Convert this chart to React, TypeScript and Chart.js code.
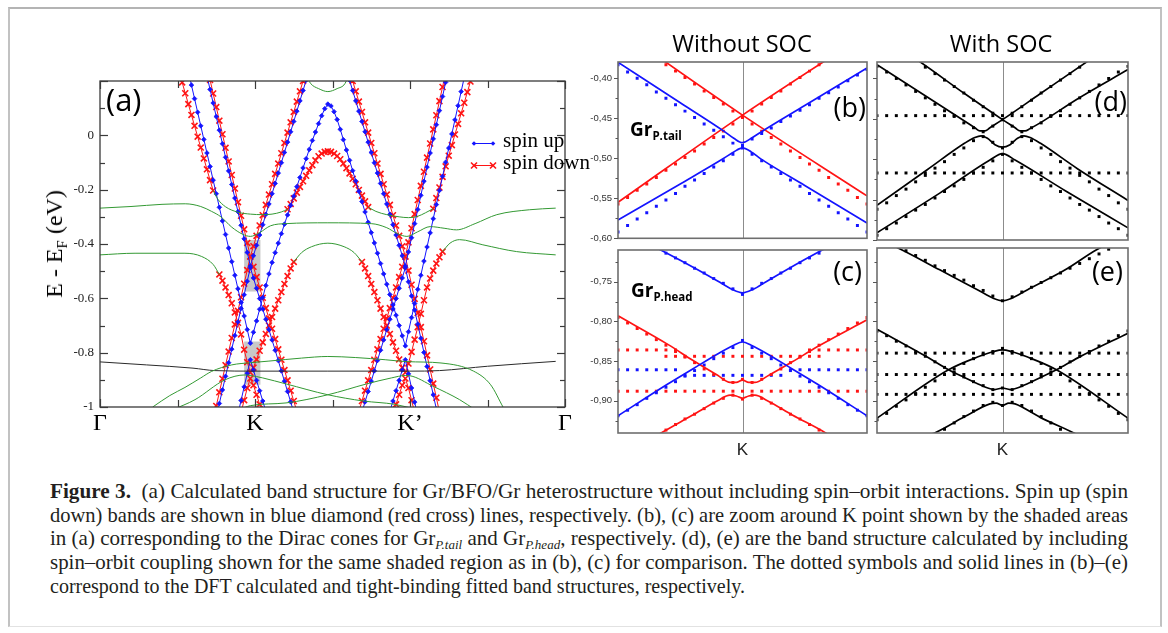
import React, { useEffect, useLayoutEffect, useRef } from 'react';
import { Chart, registerables } from 'chart.js';

Chart.register(...registerables);

const W = 1168;
const H = 633;

/* ===================== Panel (a) data ===================== */
const K_STEP = 0.02;
const A_X_RANGE = [0, 3];
const A_Y_RANGE = [-1, 0.2];
const A_X_TICK_VALUES = [0, 0.5, 1, 1.5, 2, 2.5, 3];
const A_X_LABEL_VALUES = [0, 1, 2, 3];
const A_X_LABELS = ['Γ', 'K', 'K’', 'Γ'];
const A_Y_TICK_VALUES = [-1, -0.9, -0.8, -0.7, -0.6, -0.5, -0.4, -0.3, -0.2, -0.1, 0, 0.1, 0.2];
const A_Y_LABEL_VALUES = [-1, -0.8, -0.6, -0.4, -0.2, 0];
const SHADE_K = [0.93, 1.035];
const SHADE_TAIL_E = [-0.575, -0.385];
const SHADE_HEAD_E = [-0.918, -0.759];

// spin up (blue) bands: start k, energies on the k-path grid
const BLUE_HEAD_UP_K0 = 0.57;
const BLUE_HEAD_UP = [0.235, 0.185, 0.135, 0.085, 0.035, -0.015, -0.065, -0.115, -0.165, -0.215, -0.265, -0.315, -0.365, -0.415, -0.465, -0.515, -0.565, -0.615, -0.665, -0.715, -0.765, -0.725, -0.683, -0.640, -0.597, -0.553, -0.510, -0.468, -0.432, -0.397, -0.362, -0.327, -0.293, -0.258, -0.224, -0.189, -0.155, -0.120, -0.086, -0.052, -0.019, 0.012, 0.043, 0.072, 0.098, 0.115, 0.108, 0.087, 0.058, 0.022, -0.016, -0.054, -0.092, -0.130, -0.168, -0.206, -0.244, -0.282, -0.320, -0.358, -0.396, -0.434, -0.472, -0.510, -0.548, -0.586, -0.624, -0.662, -0.700, -0.738, -0.775, -0.723, -0.671, -0.619, -0.567, -0.515, -0.463, -0.411, -0.359, -0.307, -0.255, -0.203, -0.151, -0.099, -0.047, 0.005, 0.057, 0.109, 0.161, 0.213];
const BLUE_TAIL_UP_K_K0 = 0.69;
const BLUE_TAIL_UP_K = [0.219, 0.169, 0.119, 0.069, 0.019, -0.031, -0.081, -0.131, -0.181, -0.231, -0.281, -0.331, -0.381, -0.431, -0.481, -0.443, -0.405, -0.367, -0.329, -0.291, -0.253, -0.215, -0.177, -0.139, -0.101, -0.063, -0.025, 0.013, 0.051, 0.089, 0.127, 0.165, 0.203];
const BLUE_TAIL_DN_K_K0 = 0.75;
const BLUE_TAIL_DN_K = [-1.037, -0.987, -0.937, -0.887, -0.837, -0.787, -0.737, -0.687, -0.637, -0.587, -0.537, -0.487, -0.525, -0.563, -0.601, -0.639, -0.677, -0.715, -0.753, -0.791, -0.829, -0.867, -0.905, -0.943, -0.981, -1.019];
const BLUE_HEAD_DN_K_K0 = 0.89;
const BLUE_HEAD_DN_K = [-1.026, -0.976, -0.926, -0.876, -0.826, -0.864, -0.902, -0.940, -0.978, -1.016];
const BLUE_TAIL_UP_K2_K0 = 1.61;
const BLUE_TAIL_UP_K2 = [0.203, 0.165, 0.127, 0.089, 0.051, 0.013, -0.025, -0.063, -0.101, -0.139, -0.177, -0.215, -0.253, -0.291, -0.329, -0.367, -0.405, -0.443, -0.481, -0.429, -0.377, -0.325, -0.273, -0.221, -0.169, -0.117, -0.065, -0.013, 0.039, 0.091, 0.143, 0.195, 0.247];
const BLUE_TAIL_DN_K2_K0 = 1.69;
const BLUE_TAIL_DN_K2 = [-1.019, -0.981, -0.943, -0.905, -0.867, -0.829, -0.791, -0.753, -0.715, -0.677, -0.639, -0.601, -0.563, -0.525, -0.487, -0.539, -0.591, -0.643, -0.695, -0.747, -0.799, -0.851, -0.903, -0.955, -1.007];
const BLUE_HEAD_DN_K2_K0 = 1.87;
const BLUE_HEAD_DN_K2 = [-1.016, -0.978, -0.940, -0.902, -0.864, -0.826, -0.878, -0.930, -0.982, -1.034];

// spin down (red) bands
const RED_TAIL_A_K_K0 = 0.71;
const RED_TAIL_A_K = [0.204, 0.154, 0.104, 0.054, 0.004, -0.046, -0.096, -0.146, -0.196, -0.246, -0.296, -0.346, -0.396, -0.446, -0.484, -0.522, -0.560, -0.598, -0.636, -0.674, -0.712, -0.750, -0.788, -0.826, -0.864, -0.902, -0.940, -0.978, -1.016];
const RED_TAIL_B_K_K0 = 0.73;
const RED_TAIL_B_K = [-1.046, -0.996, -0.946, -0.896, -0.846, -0.796, -0.746, -0.696, -0.646, -0.596, -0.546, -0.496, -0.446, -0.408, -0.370, -0.332, -0.294, -0.256, -0.218, -0.180, -0.142, -0.104, -0.066, -0.028, 0.010, 0.048, 0.086, 0.124, 0.162, 0.200];
const RED_HEAD_TOP_L_K0 = 0.51;
const RED_HEAD_TOP_L = [0.235, 0.195, 0.155, 0.115, 0.075, 0.035, -0.005, -0.045, -0.085, -0.125, -0.165, -0.203];
const RED_HEAD_UP_K_K0 = 0.77;
const RED_HEAD_UP_K = [-0.512, -0.535, -0.560, -0.588, -0.618, -0.652, -0.690, -0.733, -0.789, -0.835, -0.873, -0.855, -0.825, -0.793, -0.762, -0.731, -0.700, -0.669, -0.638, -0.607, -0.577, -0.547, -0.518, -0.490, -0.466];
const RED_HEAD_DN_K_K0 = 0.91;
const RED_HEAD_DN_K = [-1.02, -0.975, -0.93, -0.895, -0.92, -0.955, -0.99, -1.025];
const RED_LAMBDA_K0 = 1.21;
const RED_LAMBDA = [-0.272, -0.253, -0.232, -0.211, -0.190, -0.169, -0.149, -0.129, -0.110, -0.092, -0.077, -0.067, -0.061, -0.059, -0.061, -0.067, -0.076, -0.088, -0.104, -0.121, -0.140, -0.160, -0.180, -0.201, -0.222, -0.243, -0.264];
const RED_HEAD_UP_K2_K0 = 1.69;
const RED_HEAD_UP_K2 = [-0.466, -0.490, -0.518, -0.547, -0.577, -0.607, -0.638, -0.669, -0.700, -0.731, -0.762, -0.793, -0.825, -0.855, -0.873, -0.840, -0.797, -0.752, -0.706, -0.657, -0.607, -0.560, -0.527, -0.498, -0.472, -0.449, -0.428];
const RED_HEAD_DN_K2_K0 = 1.89;
const RED_HEAD_DN_K2 = [-1.025, -0.99, -0.955, -0.92, -0.895, -0.93, -0.975, -1.02];
const RED_TAIL_A_K2_K0 = 1.63;
const RED_TAIL_A_K2 = [0.200, 0.162, 0.124, 0.086, 0.048, 0.010, -0.028, -0.066, -0.104, -0.142, -0.180, -0.218, -0.256, -0.294, -0.332, -0.370, -0.408, -0.446, -0.498, -0.550, -0.602, -0.654, -0.706, -0.758, -0.810, -0.862, -0.914, -0.966, -1.018];
const RED_TAIL_B_K2_K0 = 1.67;
const RED_TAIL_B_K2 = [-1.016, -0.978, -0.940, -0.902, -0.864, -0.826, -0.788, -0.750, -0.712, -0.674, -0.636, -0.598, -0.560, -0.522, -0.484, -0.446, -0.394, -0.342, -0.290, -0.238, -0.186, -0.134, -0.082, -0.030, 0.022, 0.074, 0.126, 0.178, 0.230];
const RED_HEAD_TOP_R_K0 = 2.15;
const RED_HEAD_TOP_R = [-0.270, -0.231, -0.192, -0.153, -0.114, -0.075, -0.036, 0.003, 0.042, 0.081, 0.120, 0.159, 0.198, 0.237];

// substrate (green) and other (black) bands, [k, E]
const G1 = [[0, -0.268], [0.2, -0.262], [0.4, -0.254], [0.55, -0.252], [0.65, -0.262], [0.72, -0.28], [0.78, -0.3], [0.85, -0.338], [0.92, -0.364], [0.97, -0.372], [1.03, -0.358], [1.1, -0.333], [1.2, -0.325], [1.47, -0.322], [1.75, -0.325], [1.85, -0.34], [1.92, -0.362], [1.98, -0.372], [2.05, -0.355], [2.13, -0.336], [2.22, -0.342], [2.3, -0.348], [2.42, -0.325], [2.56, -0.292], [2.77, -0.274], [2.94, -0.268]];
const GA = [[0.73, -0.203], [0.76, -0.235], [0.81, -0.263], [0.89, -0.283], [0.97, -0.29], [1.05, -0.292], [1.11, -0.29], [1.17, -0.282], [1.21, -0.272]];
const GA2 = [[1.73, -0.264], [1.78, -0.28], [1.85, -0.292], [1.93, -0.3], [1.99, -0.303], [2.05, -0.298], [2.1, -0.285], [2.15, -0.27]];
const G3L = [[0, -0.44], [0.226, -0.434], [0.548, -0.434], [0.656, -0.446], [0.731, -0.476], [0.77, -0.512]];
const G3R = [[2.21, -0.428], [2.258, -0.397], [2.32, -0.384], [2.47, -0.403], [2.688, -0.428], [2.94, -0.44]];
const G4 = [[1.25, -0.466], [1.3, -0.432], [1.365, -0.41], [1.47, -0.397], [1.575, -0.41], [1.64, -0.432], [1.69, -0.466]];
const GTOP = [[1.32, 0.23], [1.36, 0.19], [1.41, 0.172], [1.47, 0.161], [1.53, 0.172], [1.58, 0.19], [1.61, 0.23]];
const G5 = [[0.34, -1.0], [0.45, -0.958], [0.548, -0.928], [0.65, -0.893], [0.72, -0.869], [0.85, -0.845], [0.97, -0.837], [1.09, -0.831], [1.3, -0.82], [1.47, -0.814], [1.65, -0.818], [1.84, -0.826], [1.98, -0.833], [2.2, -0.838], [2.41, -0.868], [2.52, -0.918], [2.6, -1.0]];
const G6A = [[0.47, -1.01], [0.613, -0.973], [0.806, -0.9], [0.935, -0.882], [0.97, -0.884], [1.05, -0.893], [1.2, -0.915], [1.47, -0.955], [1.7, -0.978], [1.9, -0.99], [2.05, -1.01]];
const G6B = [[0.9, -1.01], [0.97, -0.995], [1.2, -0.985], [1.47, -0.955], [1.72, -0.915], [1.88, -0.893], [1.97, -0.884], [2.0, -0.885], [2.15, -0.924], [2.32, -0.973], [2.42, -1.01]];
const BLACK_BAND = [[0, -0.834], [0.3, -0.845], [0.6, -0.857], [0.74, -0.866], [1.0, -0.868], [1.47, -0.868], [2.0, -0.868], [2.19, -0.866], [2.5, -0.85], [2.94, -0.832]];

/* ===================== Panels (b)-(e) data ===================== */
const U_GRID = [-1, -0.923, -0.846, -0.769, -0.692, -0.615, -0.538, -0.462, -0.385, -0.308, -0.231, -0.154, -0.077, 0, 0.077, 0.154, 0.231, 0.308, 0.385, 0.462, 0.538, 0.615, 0.692, 0.769, 0.846, 0.923, 1];
const BD_Y_RANGE = [-0.6, -0.3796];
const CE_Y_RANGE = [-0.9407, -0.71];
const E_Y_RANGE = [-0.9407, -0.7075];
const BD_Y_LABELS = [-0.6, -0.55, -0.5, -0.45, -0.4];
const C_Y_LABELS = [-0.9, -0.85, -0.8, -0.75];
const BD_Y_TICKS = [-0.6, -0.575, -0.55, -0.525, -0.5, -0.475, -0.45, -0.425, -0.4];
const CE_Y_TICKS = [-0.925, -0.9, -0.875, -0.85, -0.825, -0.8, -0.775, -0.75, -0.725];

// (b) without SOC, Gr P.tail
const B_BLUE_UP_LINE = [[-1, -0.38], [-0.5, -0.4305], [-0.15, -0.466], [-0.07, -0.475], [0, -0.4805], [0.07, -0.475], [0.15, -0.467], [0.5, -0.434], [1, -0.387]];
const B_BLUE_DN_LINE = [[-1, -0.577], [-0.5, -0.532], [-0.15, -0.5], [-0.07, -0.492], [0, -0.487], [0.07, -0.492], [0.15, -0.501], [0.5, -0.534], [1, -0.581]];
const B_RED_LINE_1 = [[-1, -0.338], [0, -0.446], [1, -0.547]];
const B_RED_LINE_2 = [[-1, -0.555], [0, -0.446], [1, -0.344]];
const B_BLUE_UP_DOTS = [-0.383, -0.392, -0.4, -0.408, -0.417, -0.425, -0.433, -0.441, -0.449, -0.457, -0.465, -0.473, -0.481, -0.484, -0.476, -0.469, -0.462, -0.454, -0.447, -0.44, -0.433, -0.425, -0.418, -0.411, -0.403, -0.396, -0.389];
const B_BLUE_DN_DOTS = [-0.592, -0.584, -0.576, -0.568, -0.56, -0.552, -0.544, -0.535, -0.527, -0.519, -0.511, -0.503, -0.495, -0.487, -0.495, -0.503, -0.511, -0.519, -0.527, -0.535, -0.544, -0.552, -0.56, -0.568, -0.576, -0.584, -0.592];
const B_RED_DOTS_1 = [-0.341, -0.349, -0.358, -0.366, -0.374, -0.383, -0.391, -0.399, -0.407, -0.416, -0.424, -0.432, -0.441, -0.449, -0.457, -0.466, -0.474, -0.482, -0.491, -0.499, -0.507, -0.515, -0.524, -0.532, -0.54, -0.549, -0.557];
const B_RED_DOTS_2 = [-0.557, -0.549, -0.54, -0.532, -0.524, -0.515, -0.507, -0.499, -0.491, -0.482, -0.474, -0.466, -0.457, -0.449, -0.441, -0.432, -0.424, -0.416, -0.407, -0.399, -0.391, -0.383, -0.374, -0.366, -0.358, -0.349, -0.341];

// (c) without SOC, Gr P.head
const C_BLUE_UP_LINE = [[-1, -0.682], [-0.5, -0.723], [-0.2, -0.749], [-0.08, -0.76], [0, -0.764], [0.08, -0.76], [0.2, -0.749], [0.5, -0.722], [1, -0.68]];
const C_BLUE_DN_LINE = [[-1, -0.919], [-0.6, -0.879], [-0.4, -0.86], [-0.2, -0.841], [-0.07, -0.83], [0, -0.826], [0.07, -0.83], [0.2, -0.841], [0.4, -0.86], [0.6, -0.879], [1, -0.919]];
const C_RED_UP_LINE = [[-1, -0.793], [-0.6, -0.829], [-0.4, -0.849], [-0.2, -0.868], [-0.1, -0.877], [-0.05, -0.877], [0, -0.874], [0.05, -0.877], [0.1, -0.877], [0.2, -0.869], [0.4, -0.851], [0.6, -0.832], [1, -0.798]];
const C_RED_DN_LINE = [[-0.7, -0.945], [-0.647, -0.94], [-0.4, -0.918], [-0.2, -0.9], [-0.1, -0.893], [-0.05, -0.894], [0, -0.897], [0.05, -0.894], [0.1, -0.893], [0.2, -0.9], [0.4, -0.918], [0.661, -0.94], [0.7, -0.944]];
const C_BLUE_UP_DOTS = [-0.682, -0.688, -0.695, -0.701, -0.707, -0.714, -0.72, -0.726, -0.733, -0.739, -0.746, -0.752, -0.759, -0.766, -0.759, -0.752, -0.746, -0.739, -0.733, -0.726, -0.72, -0.714, -0.707, -0.701, -0.695, -0.688, -0.682];
const C_BLUE_DN_DOTS = [-0.919, -0.912, -0.905, -0.897, -0.89, -0.883, -0.876, -0.869, -0.862, -0.855, -0.847, -0.84, -0.833, -0.824, -0.833, -0.84, -0.847, -0.855, -0.862, -0.869, -0.876, -0.883, -0.89, -0.897, -0.905, -0.912, -0.919];
const C_RED_UP_DOTS = [-0.795, -0.802, -0.809, -0.816, -0.823, -0.83, -0.838, -0.845, -0.852, -0.86, -0.867, -0.873, -0.877, -0.873, -0.877, -0.873, -0.867, -0.86, -0.852, -0.845, -0.838, -0.83, -0.823, -0.816, -0.809, -0.802, -0.795];
const C_RED_DN_DOTS = [-0.97, -0.964, -0.957, -0.95, -0.944, -0.937, -0.93, -0.923, -0.917, -0.91, -0.903, -0.897, -0.893, -0.898, -0.893, -0.897, -0.903, -0.91, -0.917, -0.923, -0.93, -0.937, -0.944, -0.95, -0.957, -0.964, -0.97];
const C_RED_FLAT_1 = [-0.836, -0.836, -0.836, -0.836, -0.836, -0.836, -0.836, null, null, null, null, null, null, null, null, null, null, null, null, null, -0.836, -0.836, -0.836, -0.836, -0.836, -0.836, -0.836];
const C_RED_FLAT_2 = [null, null, null, null, null, -0.844, -0.844, -0.844, -0.844, -0.844, -0.844, -0.844, -0.844, -0.844, -0.844, -0.844, -0.844, -0.844, -0.844, -0.844, -0.844, -0.844, null, null, null, null, null];
const C_BLUE_FLAT_1 = [-0.861, -0.861, -0.861, -0.861, -0.861, -0.861, -0.861, null, null, null, null, null, null, null, null, null, null, null, -0.861, -0.861, -0.861, -0.861, -0.861, -0.861, -0.861, -0.861, -0.861];
const C_BLUE_FLAT_2 = [null, null, null, null, null, null, null, -0.868, -0.868, -0.868, -0.868, -0.868, -0.868, -0.868, -0.868, -0.868, -0.868, -0.868, null, null, null, null, null, null, null, null, null];
const C_RED_FLAT_3 = [-0.888, -0.888, -0.888, -0.888, -0.888, -0.888, -0.888, -0.888, -0.888, -0.888, -0.888, -0.888, -0.888, -0.888, -0.888, -0.888, -0.888, -0.888, -0.888, -0.888, -0.888, -0.888, -0.888, -0.888, -0.888, -0.888, -0.888];

// (d) with SOC, Gr P.tail
const D_LINE_A = [[-1, -0.383], [-0.6, -0.423], [-0.3, -0.453], [-0.22, -0.461], [-0.18, -0.465], [-0.14, -0.465], [-0.1, -0.461], [0, -0.451], [0.3, -0.419], [0.666, -0.38], [0.8, -0.366]];
const D_LINE_B = [[-0.8, -0.365], [-0.652, -0.38], [-0.3, -0.419], [0, -0.451], [0.1, -0.461], [0.14, -0.465], [0.18, -0.465], [0.22, -0.462], [0.3, -0.455], [0.6, -0.425], [1, -0.389]];
const D_LINE_C = [[-1, -0.557], [-0.6, -0.513], [-0.3, -0.48], [-0.22, -0.473], [-0.17, -0.471], [-0.12, -0.474], [-0.06, -0.482], [0, -0.485], [0.06, -0.482], [0.12, -0.474], [0.17, -0.471], [0.22, -0.473], [0.3, -0.48], [0.6, -0.512], [1, -0.551]];
const D_LINE_D = [[-1, -0.591], [-0.5, -0.542], [-0.1, -0.501], [0, -0.493], [0.1, -0.501], [0.5, -0.539], [1, -0.585]];
const D_DOTS_A = [-0.385, -0.392, -0.4, -0.408, -0.416, -0.424, -0.432, -0.44, -0.447, -0.455, -0.461, -0.466, -0.459, -0.451, -0.443, -0.435, -0.427, -0.418, -0.41, -0.402, -0.394, -0.386, -0.377, -0.369, -0.361, -0.352, -0.344];
const D_DOTS_B = [-0.344, -0.352, -0.361, -0.369, -0.377, -0.386, -0.394, -0.402, -0.41, -0.418, -0.427, -0.435, -0.443, -0.451, -0.459, -0.466, -0.461, -0.455, -0.447, -0.44, -0.432, -0.424, -0.416, -0.408, -0.4, -0.392, -0.385];
const D_DOTS_C = [-0.562, -0.554, -0.545, -0.537, -0.528, -0.52, -0.511, -0.503, -0.494, -0.486, -0.477, -0.472, -0.479, -0.486, -0.479, -0.472, -0.477, -0.486, -0.494, -0.503, -0.511, -0.52, -0.528, -0.537, -0.545, -0.554, -0.562];
const D_DOTS_D = [-0.594, -0.586, -0.579, -0.571, -0.563, -0.556, -0.548, -0.54, -0.533, -0.525, -0.517, -0.51, -0.502, -0.494, -0.502, -0.51, -0.517, -0.525, -0.533, -0.54, -0.548, -0.556, -0.563, -0.571, -0.579, -0.586, -0.594];
const D_FLAT_1 = [-0.446, -0.446, -0.446, -0.446, -0.446, -0.446, -0.446, -0.446, -0.446, -0.446, -0.446, -0.446, -0.446, -0.446, -0.446, -0.446, -0.446, -0.446, -0.446, -0.446, -0.446, -0.446, -0.446, -0.446, -0.446, -0.446, -0.446];
const D_FLAT_2 = [-0.517, -0.517, -0.517, -0.517, -0.517, -0.517, -0.517, -0.517, -0.517, -0.517, -0.517, -0.517, -0.517, -0.517, -0.517, -0.517, -0.517, -0.517, -0.517, -0.517, -0.517, -0.517, -0.517, -0.517, -0.517, -0.517, -0.517];

// (e) with SOC, Gr P.head
const E_UP_LINE = [[-1, -0.695], [-0.8, -0.71], [-0.5, -0.735], [-0.2, -0.76], [-0.07, -0.771], [0, -0.774], [0.07, -0.771], [0.2, -0.76], [0.5, -0.735], [0.746, -0.71], [1, -0.69]];
const E_ALPHA_LINE = [[-1, -0.81], [-0.6, -0.845], [-0.43, -0.861], [-0.3, -0.871], [-0.15, -0.882], [-0.06, -0.886], [0, -0.884], [0.06, -0.886], [0.15, -0.882], [0.3, -0.871], [0.43, -0.861], [0.6, -0.846], [1, -0.815]];
const E_BETA_LINE = [[-1, -0.922], [-0.43, -0.861], [-0.2, -0.845], [-0.07, -0.838], [0, -0.836], [0.07, -0.838], [0.2, -0.845], [0.43, -0.861], [1, -0.922]];
const E_LOW_LINE = [[-0.62, -0.945], [-0.533, -0.94], [-0.3, -0.92], [-0.1, -0.904], [-0.05, -0.903], [0, -0.906], [0.05, -0.903], [0.1, -0.904], [0.3, -0.921], [0.56, -0.94], [0.65, -0.947]];
const E_UP_DOTS = [-0.693, -0.699, -0.705, -0.711, -0.717, -0.723, -0.73, -0.736, -0.742, -0.748, -0.755, -0.761, -0.768, -0.774, -0.769, -0.763, -0.757, -0.751, -0.745, -0.739, -0.733, -0.727, -0.721, -0.715, -0.709, -0.703, -0.697];
const E_ALPHA_DOTS = [-0.812, -0.818, -0.825, -0.831, -0.838, -0.844, -0.851, -0.858, -0.864, -0.87, -0.876, -0.881, -0.886, -0.884, -0.886, -0.881, -0.876, -0.87, -0.864, -0.858, -0.851, -0.844, -0.838, -0.831, -0.825, -0.818, -0.812];
const E_BETA_DOTS = [-0.924, -0.916, -0.907, -0.899, -0.891, -0.883, -0.875, -0.867, -0.86, -0.853, -0.847, -0.842, -0.838, -0.834, -0.838, -0.842, -0.847, -0.853, -0.86, -0.867, -0.875, -0.883, -0.891, -0.899, -0.907, -0.916, -0.924];
const E_LOW_DOTS = [-0.99, -0.982, -0.975, -0.967, -0.959, -0.951, -0.944, -0.936, -0.928, -0.92, -0.913, -0.906, -0.902, -0.906, -0.902, -0.906, -0.913, -0.92, -0.928, -0.936, -0.944, -0.951, -0.959, -0.967, -0.975, -0.982, -0.99];
const E_FLAT_1 = [-0.84, -0.84, -0.84, -0.84, -0.84, -0.84, -0.84, -0.84, -0.84, -0.84, -0.84, -0.84, -0.84, -0.84, -0.84, -0.84, -0.84, -0.84, -0.84, -0.84, -0.84, -0.84, -0.84, -0.84, -0.84, -0.84, -0.84];
const E_FLAT_2 = [-0.867, -0.867, -0.867, -0.867, -0.867, -0.867, -0.867, -0.867, -0.867, -0.867, -0.867, -0.867, -0.867, -0.867, -0.867, -0.867, -0.867, -0.867, -0.867, -0.867, -0.867, -0.867, -0.867, -0.867, -0.867, -0.867, -0.867];
const E_FLAT_3 = [-0.892, -0.892, -0.892, -0.892, -0.892, -0.892, -0.892, -0.892, -0.892, -0.892, -0.892, -0.892, -0.892, -0.892, -0.892, -0.892, -0.892, -0.892, -0.892, -0.892, -0.892, -0.892, -0.892, -0.892, -0.892, -0.892, -0.892];

/* ===================== styling ===================== */
const BLUE = '#1414ff';
const RED = '#ff1414';
const GREEN = '#339933';
const BLACK = '#000000';
const SERIF = 'Liberation Serif';
const SANS = 'Open Sans';

type Geo = { cl: number; ct: number; cw: number; ch: number; al: number; at: number; ar: number; ab: number };
const GEO_A: Geo = { cl: 40, ct: 50, cw: 560, ch: 410, al: 100, at: 81, ar: 565, ab: 407 };
const GEO_B: Geo = { cl: 575, ct: 50, cw: 300, ch: 200, al: 618, at: 62, ar: 867, ab: 245 };
const GEO_C: Geo = { cl: 575, ct: 238, cw: 300, ch: 232, al: 618, at: 250, ar: 867, ab: 433 };
const GEO_D: Geo = { cl: 840, ct: 50, cw: 300, ch: 200, al: 877, at: 62, ar: 1128, ab: 245 };
const GEO_E: Geo = { cl: 840, ct: 236, cw: 300, ch: 234, al: 877, at: 248, ar: 1128, ab: 433 };

const r3 = (v: number) => Math.round(v * 1000) / 1000;
const gridBand = (k0: number, e: number[]) => e.map((y, i) => ({ x: r3(k0 + i * K_STEP), y }));
const pairPts = (arr: number[][]) => arr.map(([x, y]) => ({ x, y }));

function markedBand(k0: number, e: number[], color: string, up: boolean) {
  return {
    data: gridBand(k0, e),
    borderColor: color,
    backgroundColor: color,
    borderWidth: 1,
    pointStyle: up ? 'rectRot' : 'crossRot',
    pointRadius: up ? 2.3 : 4.2,
    pointBorderWidth: up ? 0.8 : 1.6,
    pointBackgroundColor: color,
    pointBorderColor: color,
    tension: 0,
  };
}
function smoothBand(pts: number[][], color: string, width = 1) {
  return { data: pairPts(pts), borderColor: color, borderWidth: width, pointRadius: 0, cubicInterpolationMode: 'monotone', fill: false };
}
function tbLine(pts: number[][], color: string) {
  return { data: pairPts(pts), borderColor: color, borderWidth: 1.7, pointRadius: 0, cubicInterpolationMode: 'monotone', fill: false };
}
function dftDots(vals: (number | null)[], color: string) {
  return {
    data: U_GRID.map((u, i) => ({ x: u, y: vals[i] })),
    showLine: false,
    pointStyle: 'rect',
    pointRadius: 2.1,
    pointBorderWidth: 0,
    pointBackgroundColor: color,
    borderColor: color,
    borderWidth: 0,
  };
}

function baseOptions(g: Geo, showX: boolean, xScale: any, yScale: any) {
  const yW = g.al - g.cl;
  const xH = g.ct + g.ch - g.ab;
  return {
    responsive: false,
    maintainAspectRatio: false,
    animation: false,
    devicePixelRatio: 1,
    events: [],
    layout: { padding: { left: 0, top: g.at - g.ct, right: g.cl + g.cw - g.ar, bottom: showX ? 0 : xH } },
    plugins: { legend: { display: false }, tooltip: { enabled: false }, title: { display: false } },
    scales: {
      x: {
        type: 'linear',
        display: showX,
        grid: { display: false, drawTicks: false },
        border: { display: false },
        ...xScale,
        afterFit: (s: any) => { s.height = xH; },
      },
      y: {
        type: 'linear',
        display: true,
        grid: { display: false, drawTicks: false },
        border: { display: false },
        ...yScale,
        afterFit: (s: any) => { s.width = yW; },
      },
    },
  };
}

const line = (ctx: CanvasRenderingContext2D, x1: number, y1: number, x2: number, y2: number) => {
  ctx.beginPath(); ctx.moveTo(x1, y1); ctx.lineTo(x2, y2); ctx.stroke();
};

/* ---------- panel (a) ---------- */
function buildA(g: Geo) {
  const datasets: any[] = [
    smoothBand(G1, GREEN), smoothBand(GA, GREEN), smoothBand(GA2, GREEN), smoothBand(G3L, GREEN), smoothBand(G3R, GREEN),
    smoothBand(G4, GREEN), smoothBand(GTOP, GREEN), smoothBand(G5, GREEN), smoothBand(G6A, GREEN), smoothBand(G6B, GREEN),
    smoothBand(BLACK_BAND, '#2a2a2a'),
    markedBand(BLUE_HEAD_UP_K0, BLUE_HEAD_UP, BLUE, true),
    markedBand(BLUE_TAIL_UP_K_K0, BLUE_TAIL_UP_K, BLUE, true),
    markedBand(BLUE_TAIL_DN_K_K0, BLUE_TAIL_DN_K, BLUE, true),
    markedBand(BLUE_HEAD_DN_K_K0, BLUE_HEAD_DN_K, BLUE, true),
    markedBand(BLUE_TAIL_UP_K2_K0, BLUE_TAIL_UP_K2, BLUE, true),
    markedBand(BLUE_TAIL_DN_K2_K0, BLUE_TAIL_DN_K2, BLUE, true),
    markedBand(BLUE_HEAD_DN_K2_K0, BLUE_HEAD_DN_K2, BLUE, true),
    markedBand(RED_TAIL_A_K_K0, RED_TAIL_A_K, RED, false),
    markedBand(RED_TAIL_B_K_K0, RED_TAIL_B_K, RED, false),
    markedBand(RED_HEAD_TOP_L_K0, RED_HEAD_TOP_L, RED, false),
    markedBand(RED_HEAD_UP_K_K0, RED_HEAD_UP_K, RED, false),
    markedBand(RED_HEAD_DN_K_K0, RED_HEAD_DN_K, RED, false),
    markedBand(RED_LAMBDA_K0, RED_LAMBDA, RED, false),
    markedBand(RED_HEAD_UP_K2_K0, RED_HEAD_UP_K2, RED, false),
    markedBand(RED_HEAD_DN_K2_K0, RED_HEAD_DN_K2, RED, false),
    markedBand(RED_TAIL_A_K2_K0, RED_TAIL_A_K2, RED, false),
    markedBand(RED_TAIL_B_K2_K0, RED_TAIL_B_K2, RED, false),
    markedBand(RED_HEAD_TOP_R_K0, RED_HEAD_TOP_R, RED, false),
  ];
  const plugin = {
    id: 'panelA',
    beforeDatasetsDraw(chart: any) {
      const { ctx, scales: { x, y } } = chart;
      ctx.save();
      ctx.fillStyle = '#c8c8c8';
      [SHADE_TAIL_E, SHADE_HEAD_E].forEach((e) => {
        const x1 = x.getPixelForValue(SHADE_K[0]);
        const x2 = x.getPixelForValue(SHADE_K[1]);
        const y1 = y.getPixelForValue(e[1]);
        const y2 = y.getPixelForValue(e[0]);
        ctx.fillRect(x1, y1, x2 - x1, y2 - y1);
      });
      ctx.restore();
    },
    afterDatasetsDraw(chart: any) {
      const { ctx, chartArea: a, scales: { x, y } } = chart;
      ctx.save();
      ctx.strokeStyle = '#3a3a3a';
      ctx.lineWidth = 1.3;
      ctx.strokeRect(a.left, a.top, a.right - a.left, a.bottom - a.top);
      ctx.lineWidth = 1.2;
      A_Y_TICK_VALUES.forEach((v) => {
        const py = Math.round(y.getPixelForValue(v)) + 0.5;
        const major = Math.abs(v * 5 - Math.round(v * 5)) < 1e-6;
        const len = major ? 8 : 5;
        line(ctx, a.left, py, a.left + len, py);
        line(ctx, a.right, py, a.right - len, py);
      });
      A_X_TICK_VALUES.forEach((v) => {
        const px = Math.round(x.getPixelForValue(v)) + 0.5;
        const len = Number.isInteger(v) ? 8 : 7;
        line(ctx, px, a.top, px, a.top + len);
        line(ctx, px, a.bottom, px, a.bottom - len);
      });
      // legend symbols
      const ox = g.cl, oy = g.ct;
      const lx1 = 474 - ox, lx2 = 493 - ox;
      const by = 143.5 - oy, ry = 165.5 - oy;
      ctx.lineWidth = 1;
      ctx.strokeStyle = BLUE; ctx.fillStyle = BLUE;
      line(ctx, lx1, by, lx2, by);
      [lx1, lx2].forEach((px) => {
        ctx.beginPath(); ctx.moveTo(px, by - 2.3); ctx.lineTo(px + 2.3, by); ctx.lineTo(px, by + 2.3); ctx.lineTo(px - 2.3, by); ctx.closePath(); ctx.fill();
      });
      ctx.strokeStyle = RED;
      line(ctx, lx1, ry, lx2, ry);
      ctx.lineWidth = 1.6;
      [lx1, lx2].forEach((px) => {
        line(ctx, px - 3, ry - 3, px + 3, ry + 3);
        line(ctx, px + 3, ry - 3, px - 3, ry + 3);
      });
      ctx.restore();
    },
  };
  const options = baseOptions(
    g,
    true,
    {
      min: A_X_RANGE[0], max: A_X_RANGE[1],
      afterBuildTicks: (s: any) => { s.ticks = A_X_LABEL_VALUES.map((v) => ({ value: v })); },
      ticks: {
        autoSkip: false, maxRotation: 0, minRotation: 0, padding: 2, color: '#000',
        font: { family: SERIF, size: 24 },
        callback: (v: number) => A_X_LABELS[A_X_LABEL_VALUES.indexOf(v)],
      },
    },
    {
      min: A_Y_RANGE[0], max: A_Y_RANGE[1],
      afterBuildTicks: (s: any) => { s.ticks = A_Y_LABEL_VALUES.map((v) => ({ value: v })); },
      ticks: {
        padding: 6, color: '#222',
        font: { family: SERIF, size: 13 },
        callback: (v: number) => (Math.abs(v) < 1e-9 ? '0' : String(Math.round(v * 10) / 10)),
      },
    },
  );
  return { type: 'line', data: { datasets }, options, plugins: [plugin] };
}

/* ---------- panels (b)-(e) ---------- */
function buildRight(g: Geo, yRange: number[], yTicks: number[], yLabels: number[] | null, showK: boolean, datasets: any[]) {
  const plugin = {
    id: 'panelRight',
    beforeDatasetsDraw(chart: any) {
      const { ctx, chartArea: a, scales: { x } } = chart;
      const cx = Math.round(x.getPixelForValue(0)) + 0.5;
      ctx.save();
      ctx.strokeStyle = '#8c8c8c';
      ctx.lineWidth = 1;
      line(ctx, cx, a.top, cx, a.bottom);
      ctx.restore();
    },
    afterDatasetsDraw(chart: any) {
      const { ctx, chartArea: a, scales: { y } } = chart;
      ctx.save();
      ctx.strokeStyle = '#6e6e6e';
      ctx.lineWidth = 1.6;
      ctx.strokeRect(a.left, a.top, a.right - a.left, a.bottom - a.top);
      ctx.lineWidth = 1;
      ctx.strokeStyle = '#555';
      yTicks.forEach((v) => {
        const py = Math.round(y.getPixelForValue(v)) + 0.5;
        const major = Math.abs(v * 20 - Math.round(v * 20)) < 1e-6;
        line(ctx, a.left, py, a.left - (major ? 4 : 2.5), py);
      });
      ctx.restore();
    },
  };
  const options = baseOptions(
    g,
    showK,
    {
      min: -1, max: 1,
      afterBuildTicks: (s: any) => { s.ticks = [{ value: 0 }]; },
      ticks: { autoSkip: false, maxRotation: 0, padding: 7, color: '#222', font: { family: 'Liberation Sans', size: 17 }, callback: () => 'K' },
    },
    {
      min: yRange[0], max: yRange[1],
      afterBuildTicks: (s: any) => { s.ticks = (yLabels || []).map((v) => ({ value: v })); },
      ticks: {
        display: !!yLabels, padding: 6, color: '#333',
        font: { family: 'Liberation Sans', size: 9.5 },
        callback: (v: number) => v.toFixed(2).replace('.', ','),
      },
    },
  );
  return { type: 'line', data: { datasets }, options, plugins: [plugin] };
}

const buildB = (g: Geo) => buildRight(g, BD_Y_RANGE, BD_Y_TICKS, BD_Y_LABELS, false, [
  tbLine(B_BLUE_UP_LINE, BLUE), tbLine(B_BLUE_DN_LINE, BLUE), tbLine(B_RED_LINE_1, RED), tbLine(B_RED_LINE_2, RED),
  dftDots(B_BLUE_UP_DOTS, BLUE), dftDots(B_BLUE_DN_DOTS, BLUE), dftDots(B_RED_DOTS_1, RED), dftDots(B_RED_DOTS_2, RED),
]);
const buildC = (g: Geo) => buildRight(g, CE_Y_RANGE, CE_Y_TICKS, C_Y_LABELS, true, [
  tbLine(C_BLUE_UP_LINE, BLUE), tbLine(C_BLUE_DN_LINE, BLUE), tbLine(C_RED_UP_LINE, RED), tbLine(C_RED_DN_LINE, RED),
  dftDots(C_BLUE_UP_DOTS, BLUE), dftDots(C_BLUE_DN_DOTS, BLUE), dftDots(C_RED_UP_DOTS, RED), dftDots(C_RED_DN_DOTS, RED),
  dftDots(C_RED_FLAT_1, RED), dftDots(C_RED_FLAT_2, RED), dftDots(C_BLUE_FLAT_1, BLUE), dftDots(C_BLUE_FLAT_2, BLUE), dftDots(C_RED_FLAT_3, RED),
]);
const buildD = (g: Geo) => buildRight(g, BD_Y_RANGE, BD_Y_TICKS, null, false, [
  tbLine(D_LINE_A, BLACK), tbLine(D_LINE_B, BLACK), tbLine(D_LINE_C, BLACK), tbLine(D_LINE_D, BLACK),
  dftDots(D_DOTS_A, BLACK), dftDots(D_DOTS_B, BLACK), dftDots(D_DOTS_C, BLACK), dftDots(D_DOTS_D, BLACK),
  dftDots(D_FLAT_1, BLACK), dftDots(D_FLAT_2, BLACK),
]);
const buildE = (g: Geo) => buildRight(g, E_Y_RANGE, CE_Y_TICKS, null, true, [
  tbLine(E_UP_LINE, BLACK), tbLine(E_ALPHA_LINE, BLACK), tbLine(E_BETA_LINE, BLACK), tbLine(E_LOW_LINE, BLACK),
  dftDots(E_UP_DOTS, BLACK), dftDots(E_ALPHA_DOTS, BLACK), dftDots(E_BETA_DOTS, BLACK), dftDots(E_LOW_DOTS, BLACK),
  dftDots(E_FLAT_1, BLACK), dftDots(E_FLAT_2, BLACK), dftDots(E_FLAT_3, BLACK),
]);

function ChartCanvas({ geo, build }: { geo: Geo; build: (g: Geo) => any }) {
  const ref = useRef<HTMLCanvasElement>(null);
  useEffect(() => {
    if (!ref.current) return;
    const chart = new Chart(ref.current, build(geo));
    return () => chart.destroy();
  }, []);
  return (
    <canvas
      ref={ref}
      width={geo.cw}
      height={geo.ch}
      style={{ position: 'absolute', left: geo.cl, top: geo.ct, width: geo.cw, height: geo.ch }}
    />
  );
}

/* ---------- text helpers ---------- */
const BASE_RATIO: Record<string, number> = { 'Open Sans': 0.888, 'Liberation Serif': 0.8375, 'Liberation Sans': 0.8465 };
function Txt(props: { x: number; y: number; size: number; family: string; weight?: number; align?: string; color?: string; children: any }) {
  const { x, y, size, family, weight = 400, align = 'left', color = '#000', children } = props;
  const style: any = {
    position: 'absolute', top: y - BASE_RATIO[family] * size, fontFamily: family, fontSize: size,
    lineHeight: 1, whiteSpace: 'nowrap', color, fontWeight: weight,
  };
  if (align === 'left') style.left = x;
  else if (align === 'right') style.right = W - x;
  else { style.left = x; style.transform = 'translateX(-50%)'; }
  return <div style={style}>{children}</div>;
}

const CAP_LEFT = 50;
const CAP_RIGHTS = [1128, 1128, 1128, 1128, 745];
const CAP_SIZE = 21.5;
const CAP_BASELINES = [499, 522.7, 546.4, 570.1, 593.8];

function CapLine({ idx, children }: { idx: number; children: any }) {
  const ref = useRef<HTMLDivElement>(null);
  useLayoutEffect(() => {
    const el = ref.current;
    if (!el) return;
    const target = CAP_RIGHTS[idx] - CAP_LEFT;
    el.style.wordSpacing = '0px';
    el.style.transform = 'none';
    const w = el.getBoundingClientRect().width;
    const spaces = (el.textContent || '').split(' ').length - 1;
    if (w > target) {
      el.style.transformOrigin = 'left top';
      el.style.transform = `scaleX(${target / w})`;
    } else if (spaces > 0) {
      el.style.wordSpacing = `${(target - w) / spaces}px`;
    }
  }, []);
  return (
    <div
      ref={ref}
      style={{
        position: 'absolute', left: CAP_LEFT, top: CAP_BASELINES[idx] - BASE_RATIO[SERIF] * CAP_SIZE, fontFamily: SERIF,
        fontSize: CAP_SIZE, lineHeight: 1, whiteSpace: 'nowrap', color: '#231f20',
      }}
    >
      {children}
    </div>
  );
}

const subStyle: any = { fontSize: '0.62em', position: 'relative', top: '0.28em' };

export default function App() {
  return (
    <div style={{ position: 'absolute', left: 0, top: 0, width: W, height: H, background: '#fff', overflow: 'hidden' }}>
      <div
        style={{
          position: 'absolute', left: 8, top: 7, width: 1154, height: 620, boxSizing: 'border-box',
          borderLeft: '2px solid #c2c2c2', borderTop: '2px solid #b4b4b4', borderRight: '2px solid #c2c2c2', borderBottom: '1px solid #e2e2e2',
        }}
      />
      <ChartCanvas geo={GEO_A} build={buildA} />
      <ChartCanvas geo={GEO_B} build={buildB} />
      <ChartCanvas geo={GEO_C} build={buildC} />
      <ChartCanvas geo={GEO_D} build={buildD} />
      <ChartCanvas geo={GEO_E} build={buildE} />

      {/* panel (a) texts */}
      <Txt x={106} y={112} size={31} family={SANS}>(a)</Txt>
      <Txt x={503} y={148} size={21} family={SERIF}>spin up</Txt>
      <Txt x={503} y={170} size={21} family={SERIF}>spin down</Txt>
      <div
        style={{
          position: 'absolute', left: 54, top: 244, transform: 'translate(-50%, -50%) rotate(-90deg)',
          fontFamily: SERIF, fontSize: 24, lineHeight: 1, whiteSpace: 'nowrap', color: '#000',
        }}
      >
        E - E<span style={{ fontSize: 15, position: 'relative', top: 5 }}>F</span> (eV)
      </div>

      {/* right panel texts */}
      <Txt x={742} y={53} size={23.5} family={SANS} align="center">Without SOC</Txt>
      <Txt x={1001} y={53} size={23.5} family={SANS} align="center">With SOC</Txt>
      <Txt x={866} y={117} size={27} family={SANS} align="right">(b)</Txt>
      <Txt x={862} y={281} size={27} family={SANS} align="right">(c)</Txt>
      <Txt x={1127} y={110.5} size={27} family={SANS} align="right">(d)</Txt>
      <Txt x={1123} y={280.5} size={27} family={SANS} align="right">(e)</Txt>
      <Txt x={630} y={137} size={19} family={SANS} weight={700}>
        Gr<span style={{ fontSize: 11.5, position: 'relative', top: 4 }}>P.tail</span>
      </Txt>
      <Txt x={631} y={298} size={19} family={SANS} weight={700}>
        Gr<span style={{ fontSize: 11.5, position: 'relative', top: 4 }}>P.head</span>
      </Txt>

      {/* caption */}
      <CapLine idx={0}>
        <b>Figure 3.</b>{'\u00a0\u00a0'}(a) Calculated band structure for Gr/BFO/Gr heterostructure without including spin–orbit interactions. Spin up (spin
      </CapLine>
      <CapLine idx={1}>
        down) bands are shown in blue diamond (red cross) lines, respectively. (b), (c) are zoom around K point shown by the shaded areas
      </CapLine>
      <CapLine idx={2}>
        in (a) corresponding to the Dirac cones for Gr<i style={subStyle}>P.tail</i> and Gr<i style={subStyle}>P.head</i>, respectively. (d), (e) are the band structure calculated by including
      </CapLine>
      <CapLine idx={3}>
        spin–orbit coupling shown for the same shaded region as in (b), (c) for comparison. The dotted symbols and solid lines in (b)–(e)
      </CapLine>
      <CapLine idx={4}>
        correspond to the DFT calculated and tight-binding fitted band structures, respectively.
      </CapLine>
    </div>
  );
}
